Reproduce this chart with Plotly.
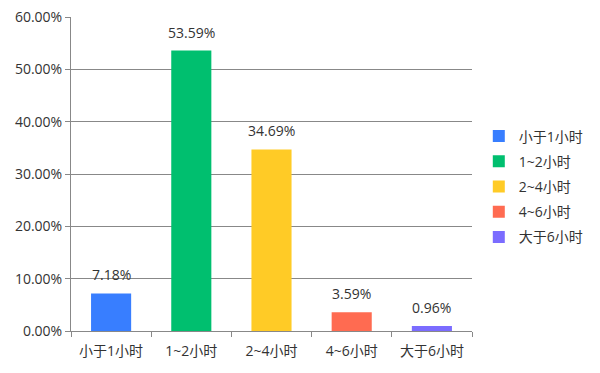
import plotly.graph_objects as go

categories = ["小于1小时", "1~2小时", "2~4小时", "4~6小时", "大于6小时"]
values = [7.18, 53.59, 34.69, 3.59, 0.96]
colors = ["#387EFF", "#00BF6F", "#FFCB26", "#FF6B51", "#7B6CFF"]
y_ticks = [0, 10, 20, 30, 40, 50, 60]

FONT = "Open Sans, Noto Sans CJK SC"
TXT = "#333333"

fig = go.Figure()
for i, (c, v, col) in enumerate(zip(categories, values, colors)):
    fig.add_trace(go.Bar(
        x=[c], y=[v], name=c, width=0.5,
        marker=dict(color=col, line=dict(width=0)),
        legendgroup=f"g{i}",
    ))
    fig.add_annotation(x=c, y=v, text=f"{v:.2f}%", showarrow=False,
                       yanchor="bottom", yshift=7,
                       font=dict(family=FONT, size=14, color=TXT))

fig.update_layout(
    width=600, height=373,
    margin=dict(l=71, r=128, t=17, b=42, autoexpand=False),
    paper_bgcolor="white", plot_bgcolor="white",
    barmode="overlay",
    font=dict(family=FONT, size=14, color=TXT),
    showlegend=True,
    legend=dict(xref="container", yref="container", x=0.798, y=0.50,
                xanchor="left", yanchor="middle",
                font=dict(family=FONT, size=14, color=TXT),
                tracegroupgap=4, itemwidth=30),
    xaxis=dict(categoryorder="array", categoryarray=categories,
               showline=True, linecolor="#888888", linewidth=1,
               ticks="outside", tickson="boundaries", ticklen=5, tickcolor="#888888",
               showgrid=False, automargin=False, ticklabelstandoff=7,
               tickfont=dict(family=FONT, size=14, color=TXT)),
    yaxis=dict(range=[0, 60], tickvals=y_ticks,
               ticktext=[f"{t:.2f}%" for t in y_ticks],
               showline=True, linecolor="#888888", linewidth=1,
               ticks="outside", ticklen=5, tickcolor="#888888",
               showgrid=True, gridcolor="#888888", gridwidth=1,
               zeroline=False, automargin=False,
               tickfont=dict(family=FONT, size=14, color=TXT)),
)

fig.write_html("out.html")
